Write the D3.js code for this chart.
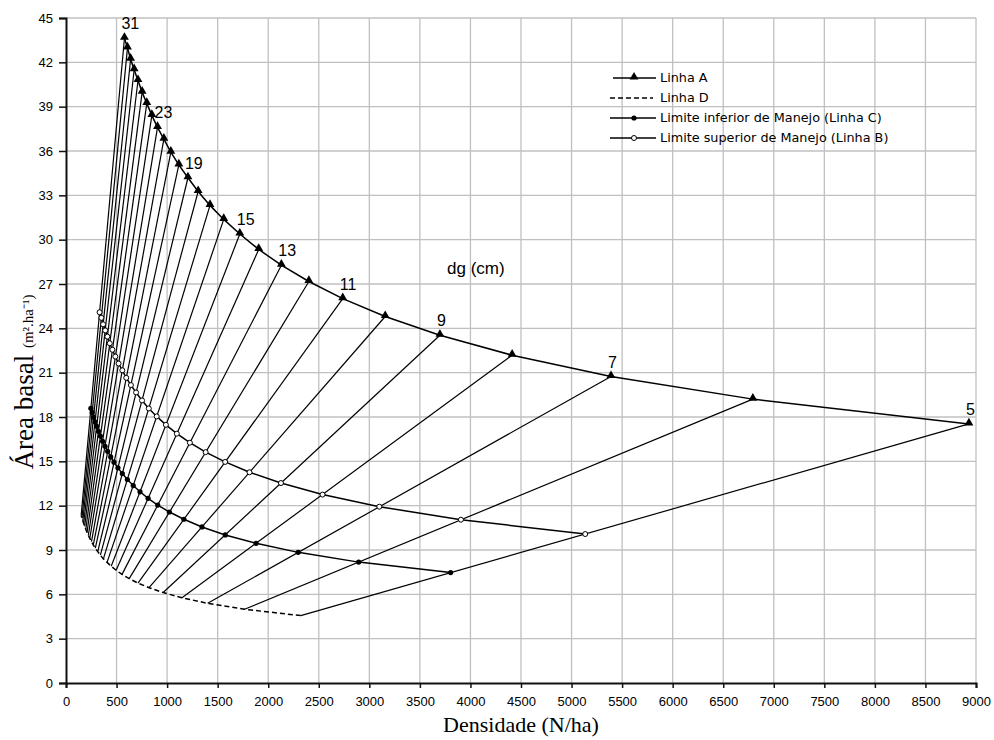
<!DOCTYPE html>
<html>
<head>
<meta charset="utf-8">
<script src="https://cdn.jsdelivr.net/npm/d3@7"></script>
<style>
  body { margin: 0; background: #fff; }
  svg { display: block; }
</style>
</head>
<body>
<div id="chart"></div>
<script>
// classes de diâmetro (dg, cm)
const dgClasses = [5, 6, 7, 8, 9, 10, 11, 12, 13, 14, 15, 16, 17, 18, 19, 20, 21, 22, 23, 24, 25, 26, 27, 28, 29, 30, 31];

// Linha A (densidade máxima)
const linhaA_N = [8930, 6793, 5390, 4412, 3698, 3157, 2737, 2402, 2130, 1906, 1719, 1560, 1424, 1307, 1206, 1116, 1037, 968, 905, 849, 799, 753, 712, 674, 639, 608, 578];
const linhaA_G = [17.53, 19.21, 20.74, 22.18, 23.53, 24.80, 26.01, 27.17, 28.27, 29.34, 30.38, 31.37, 32.32, 33.26, 34.19, 35.06, 35.92, 36.80, 37.60, 38.41, 39.22, 39.98, 40.77, 41.50, 42.21, 42.98, 43.63];

// Limite superior de Manejo (Linha B)
const linhaB_N = [5135, 3906, 3099, 2537, 2126, 1815, 1574, 1381, 1225, 1096, 988, 897, 819, 752, 693, 642, 596, 557, 520, 488, 459, 433, 409, 388, 367, 350, 332];
const linhaB_G = [10.08, 11.05, 11.93, 12.75, 13.53, 14.26, 14.96, 15.62, 16.26, 16.87, 17.47, 18.04, 18.58, 19.12, 19.66, 20.16, 20.65, 21.16, 21.62, 22.09, 22.55, 22.99, 23.44, 23.86, 24.27, 24.71, 25.09];

// Limite inferior de Manejo (Linha C)
const linhaC_N = [3804, 2894, 2296, 1880, 1575, 1345, 1166, 1023, 907, 812, 732, 665, 607, 557, 514, 475, 442, 412, 386, 362, 340, 321, 303, 287, 272, 259, 246];
const linhaC_G = [7.47, 8.18, 8.84, 9.45, 10.02, 10.56, 11.08, 11.57, 12.04, 12.50, 12.94, 13.36, 13.77, 14.17, 14.56, 14.94, 15.30, 15.68, 16.02, 16.36, 16.71, 17.03, 17.37, 17.68, 17.98, 18.31, 18.59];

// Linha D
const linhaD_N = [2322, 1766, 1401, 1147, 961, 821, 712, 625, 554, 496, 447, 406, 370, 340, 314, 290, 270, 252, 235, 221, 208, 196, 185, 175, 166, 158, 150];
const linhaD_G = [4.56, 4.99, 5.39, 5.77, 6.12, 6.45, 6.76, 7.06, 7.35, 7.63, 7.90, 8.16, 8.40, 8.65, 8.89, 9.12, 9.34, 9.57, 9.78, 9.99, 10.20, 10.39, 10.60, 10.79, 10.97, 11.17, 11.34];

// dg com rótulo na Linha A
const dgLabels = [31, 23, 19, 15, 13, 11, 9, 7, 5];

const xTickValues = [0, 500, 1000, 1500, 2000, 2500, 3000, 3500, 4000, 4500, 5000, 5500, 6000, 6500, 7000, 7500, 8000, 8500, 9000];
const yTickValues = [0, 3, 6, 9, 12, 15, 18, 21, 24, 27, 30, 33, 36, 39, 42, 45];

const legendItems = ["Linha A", "Linha D", "Limite inferior de Manejo (Linha C)", "Limite superior de Manejo (Linha B)"];

const W = 994, H = 740;
const margin = {top: 18, right: 18, bottom: 57, left: 66};

const svg = d3.select("#chart").append("svg")
    .attr("width", W)
    .attr("height", H);

const x = d3.scaleLinear().domain([0, 9000]).range([margin.left, W - margin.right]);
const y = d3.scaleLinear().domain([0, 45]).range([H - margin.bottom, margin.top]);

const sansFont = "Arial, 'Liberation Sans', sans-serif";
const serifFont = "'Times New Roman', 'Liberation Serif', serif";

// grade
const grid = svg.append("g").attr("class", "grid");
grid.selectAll(".vline")
    .data(xTickValues.slice(1))
    .enter().append("line")
    .attr("x1", function(d) { return x(d); })
    .attr("x2", function(d) { return x(d); })
    .attr("y1", y(0))
    .attr("y2", y(45))
    .style("stroke", "#c0c0c0")
    .style("stroke-width", 1.3);
grid.selectAll(".hline")
    .data(yTickValues.slice(1))
    .enter().append("line")
    .attr("x1", x(0))
    .attr("x2", x(9000))
    .attr("y1", function(d) { return y(d); })
    .attr("y2", function(d) { return y(d); })
    .style("stroke", "#c0c0c0")
    .style("stroke-width", 1.3);

// eixos
const xAxis = svg.append("g")
    .attr("transform", `translate(0,${y(0)})`)
    .call(d3.axisBottom(x).tickValues(xTickValues).tickFormat(d3.format("d")).tickSize(5).tickPadding(9));
const yAxis = svg.append("g")
    .attr("transform", `translate(${x(0)},0)`)
    .call(d3.axisLeft(y).tickValues(yTickValues).tickSize(7).tickPadding(6));

[xAxis, yAxis].forEach(function(a) {
    a.select(".domain").style("stroke", "#111").style("stroke-width", 2);
    a.selectAll(".tick line").style("stroke", "#111").style("stroke-width", 1.5);
    a.selectAll(".tick text")
        .style("font-family", sansFont)
        .style("font-size", "13px")
        .style("fill", "#000");
});

// linhas de dg constante (da Linha A até a Linha D)
const plot = svg.append("g").attr("class", "plot");
plot.selectAll(".dgLine")
    .data(dgClasses)
    .enter().append("line")
    .attr("class", "dgLine")
    .attr("x1", function(d, i) { return x(linhaA_N[i]); })
    .attr("y1", function(d, i) { return y(linhaA_G[i]); })
    .attr("x2", function(d, i) { return x(linhaD_N[i]); })
    .attr("y2", function(d, i) { return y(linhaD_G[i]); })
    .style("stroke", "#000")
    .style("stroke-width", 1.2);

const line = d3.line()
    .x(function(d) { return x(d[0]); })
    .y(function(d) { return y(d[1]); });

const series = [
    {name: "A", N: linhaA_N, G: linhaA_G, dash: null},
    {name: "D", N: linhaD_N, G: linhaD_G, dash: "5,3"},
    {name: "C", N: linhaC_N, G: linhaC_G, dash: null},
    {name: "B", N: linhaB_N, G: linhaB_G, dash: null}
];

series.forEach(function(s) {
    const pts = s.N.map(function(n, i) { return [n, s.G[i]]; });
    plot.append("path")
        .datum(pts)
        .attr("d", line)
        .style("fill", "none")
        .style("stroke", "#000")
        .style("stroke-width", 1.5)
        .style("stroke-dasharray", s.dash);
    s.pts = pts;
});

const triangle = d3.symbol().type(d3.symbolTriangle).size(34);

function drawMarker(g, kind, cx, cy) {
    if (kind === "A") {
        g.append("path")
            .attr("d", triangle())
            .attr("transform", `translate(${cx},${cy - 1})`)
            .style("fill", "#000");
    } else if (kind === "C") {
        g.append("circle")
            .attr("cx", cx).attr("cy", cy).attr("r", 2.6)
            .style("fill", "#000");
    } else if (kind === "B") {
        g.append("circle")
            .attr("cx", cx).attr("cy", cy).attr("r", 2.5)
            .style("fill", "#fff")
            .style("stroke", "#000")
            .style("stroke-width", 1);
    }
}

const markers = svg.append("g").attr("class", "markers");
series.forEach(function(s) {
    if (s.name === "D") return;
    s.pts.forEach(function(p) { drawMarker(markers, s.name, x(p[0]), y(p[1])); });
});

// rótulos de dg
svg.append("g").selectAll("text")
    .data(dgLabels)
    .enter().append("text")
    .attr("x", function(d) { const i = dgClasses.indexOf(d); return x(linhaA_N[i]) - 3; })
    .attr("y", function(d) { const i = dgClasses.indexOf(d); return y(linhaA_G[i]) - 9; })
    .style("font-family", sansFont)
    .style("font-size", "16px")
    .style("fill", "#000")
    .text(function(d) { return d; });

svg.append("text")
    .attr("x", 447)
    .attr("y", 274)
    .style("font-family", sansFont)
    .style("font-size", "17px")
    .style("fill", "#000")
    .text("dg (cm)");

// legenda
const legend = svg.append("g").attr("transform", "translate(610,78)");
const legRow = legend.selectAll(".leg")
    .data(legendItems)
    .enter().append("g")
    .attr("transform", function(d, i) { return `translate(0,${i * 20})`; });

legRow.append("line")
    .attr("x1", function(d, i) { return i === 0 ? 3 : 0; })
    .attr("x2", function(d, i) { return i === 1 ? 43 : 46; })
    .attr("y1", 0).attr("y2", 0)
    .style("stroke", "#000")
    .style("stroke-width", 1.5)
    .style("stroke-dasharray", function(d, i) { return i === 1 ? "5,3" : null; });

legRow.each(function(d, i) {
    const kind = ["A", "D", "C", "B"][i];
    drawMarker(d3.select(this), kind, 24, 0);
});

legRow.append("text")
    .attr("x", 50)
    .attr("y", 0)
    .attr("dy", "0.35em")
    .style("font-family", "'DejaVu Sans', sans-serif")
    .style("font-size", "12.8px")
    .style("fill", "#000")
    .text(function(d) { return d; });

// títulos dos eixos
svg.append("text")
    .attr("x", (x(0) + x(9000)) / 2)
    .attr("y", 732)
    .attr("text-anchor", "middle")
    .style("font-family", serifFont)
    .style("font-size", "22px")
    .style("fill", "#000")
    .text("Densidade (N/ha)");

const yTitle = svg.append("text")
    .attr("transform", "translate(33,382) rotate(-90)")
    .attr("text-anchor", "middle")
    .style("font-family", serifFont)
    .style("fill", "#000");
yTitle.append("tspan")
    .style("font-size", "27px")
    .text("Área basal ");
yTitle.append("tspan")
    .style("font-size", "15px")
    .text("(m².ha⁻¹)");
</script>
</body>
</html>
